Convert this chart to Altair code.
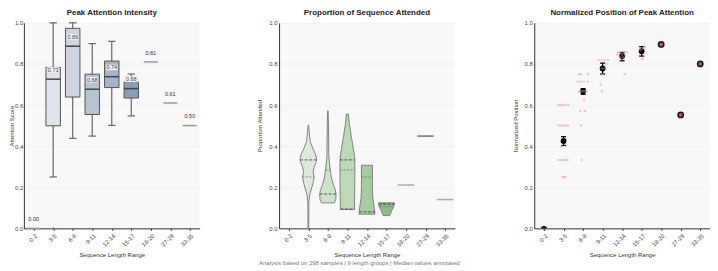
import json
import altair as alt
import pandas as pd

groups = ["0-2", "3-5", "6-8", "9-11", "12-14", "15-17", "18-20", "27-29", "33-35"]

# ---------- Panel 1: Peak attention intensity (box plots) ----------
box_idx = [1, 2, 3, 4, 5]
box_wlo = [0.25, 0.438, 0.449, 0.501, 0.547]
box_q1 = [0.499, 0.639, 0.554, 0.685, 0.634]
box_med = [0.726, 0.886, 0.677, 0.738, 0.680]
box_q3 = [0.783, 0.973, 0.750, 0.814, 0.711]
box_whi = [1.0, 1.0, 0.899, 0.910, 0.751]
box_fill = ["#dfe4e9", "#cdd5df", "#b7c4d3", "#a4b5c9", "#8b9db7"]
single_idx = [0, 6, 7, 8]
single_val = [0.0, 0.81, 0.61, 0.50]
outlier_idx = [1]
outlier_val = [0.0]

# ---------- Panel 2: Proportion attended (violins) ----------
violin_profiles = {
    1: [(0.502, 0.01), (0.462, 0.05), (0.422, 0.10), (0.390, 0.22), (0.366, 0.34),
        (0.341, 0.42), (0.325, 0.41), (0.297, 0.29), (0.277, 0.24), (0.249, 0.30),
        (0.224, 0.25), (0.196, 0.17), (0.164, 0.07), (0.124, 0.025), (0.0, 0.02)],
    2: [(0.572, 0.01), (0.511, 0.03), (0.430, 0.04), (0.349, 0.05), (0.285, 0.12),
        (0.245, 0.18), (0.212, 0.28), (0.188, 0.38), (0.164, 0.42), (0.140, 0.40),
        (0.124, 0.33)],
    3: [(0.556, 0.05), (0.510, 0.10), (0.446, 0.20), (0.390, 0.30), (0.341, 0.38),
        (0.253, 0.38), (0.156, 0.37), (0.092, 0.36)],
    4: [(0.307, 0.28), (0.204, 0.28), (0.150, 0.30), (0.110, 0.36), (0.080, 0.40),
        (0.069, 0.40)],
    5: [(0.124, 0.41), (0.108, 0.38), (0.092, 0.30), (0.075, 0.22), (0.062, 0.17)],
}
violin_fill = ["#dde9db", "#cfe2cb", "#bcd8b6", "#a6cba0", "#8cbd86"]
inner_idx = [1, 1, 2, 2, 3, 3, 3, 4, 4, 5, 5]
inner_val = [0.333, 0.25, 0.284, 0.167, 0.333, 0.284, 0.094, 0.25, 0.08, 0.118, 0.106]
inner_hw = [0.42, 0.30, 0.13, 0.42, 0.38, 0.38, 0.36, 0.28, 0.40, 0.40, 0.34]
inner_kind = ["dark", "gray", "gray", "dark", "dark", "gray", "dark", "gray", "dark", "dark", "gray"]
prop_single_idx = [6, 7, 8]
prop_single_val = [0.211, 0.449, 0.140]
prop_single_kind = ["gray", "dark", "gray"]

# ---------- Panel 3: Normalized position ----------
mean_idx = [0, 1, 2, 3, 4, 5]
mean_val = [0.004, 0.425, 0.667, 0.778, 0.839, 0.862]
err_lo = [0.004, 0.403, 0.652, 0.751, 0.815, 0.838]
err_hi = [0.004, 0.446, 0.680, 0.804, 0.856, 0.884]
mean_size = [14, 34, 34, 34, 34, 34]
pos_single_idx = [6, 7, 8]
pos_single_val = [0.895, 0.552, 0.800]
pts_idx = ([1] * 19 + [2] * 17 + [3] * 10 + [4] * 10 + [5] * 6 + [0] * 3)
pts_val = ([0.6] * 5 + [0.5] * 5 + [0.4] + [0.333] * 5 + [0.25] * 3 +
           [0.75] * 3 + [0.714] * 4 + [0.667] * 5 + [0.625] + [0.571] * 2 + [0.5] + [0.333] +
           [0.818] * 4 + [0.8] + [0.778] * 2 + [0.75] + [0.7] + [0.667] +
           [0.857] * 4 + [0.846] * 3 + [0.833] * 2 + [0.75] +
           [0.882] + [0.875] * 3 + [0.867] + [0.824] +
           [0.0] * 3)
pts_jit = ([-0.26, -0.15, -0.05, 0.08, 0.24] + [-0.25, -0.12, 0.0, 0.1, 0.22] + [-0.1] +
           [-0.25, -0.12, 0.0, 0.1, 0.2] + [-0.05, 0.03, 0.1] +
           [-0.2, -0.1, 0.25] + [-0.25, -0.1, 0.05, 0.25] + [-0.2, -0.1, 0.0, 0.1, 0.2] + [0.06] +
           [-0.15, 0.1] + [-0.1] + [-0.08] +
           [-0.2, -0.05, 0.1, 0.28] + [0.2] + [-0.05, 0.05] + [0.0] + [-0.1] + [-0.03] +
           [-0.2, -0.05, 0.1, 0.25] + [-0.25, 0.0, 0.15] + [-0.1, 0.05] + [0.13] +
           [0.18] + [-0.1, 0.05, 0.12] + [-0.05] + [0.06] +
           [-0.2, 0.0, 0.2])

# ---------- shared styling ----------
FONT = "Liberation Sans"
W, H = 177, 207
label_expr = json.dumps(groups) + "[datum.value]"
xscale = alt.Scale(domain=[-0.5, 8.5], nice=False, zero=False)
yscale = alt.Scale(domain=[0, 1], nice=False)


def xaxis():
    return alt.Axis(values=list(range(9)), tickCount=9, labelExpr=label_expr, labelAngle=-45,
                    labelOverlap=False, labelBound=False, labelFlush=False,
                    title="Sequence Length Range", grid=False,
                    tickSize=2, labelFontSize=6, titleFontSize=6, titlePadding=4)


def yaxis(title, pad, lpad=2):
    return alt.Axis(values=[0, 0.2, 0.4, 0.6, 0.8, 1.0], tickCount=6, format=".1f", title=title,
                    ticks=False, labelPadding=lpad, titlePadding=pad, grid=True,
                    labelFontSize=6, titleFontSize=6)


def ttl(text):
    return alt.TitleParams(text, fontSize=8, fontWeight="bold", font=FONT,
                           color="#222", anchor="middle", offset=3)


# Panel 1
box_df = pd.DataFrame({"i": box_idx, "wlo": box_wlo, "q1": box_q1, "med": box_med,
                       "q3": box_q3, "whi": box_whi, "fill": box_fill})
box_df["lab"] = [f"{v:.2f}" for v in box_med]
sing_df = pd.DataFrame({"i": single_idx, "med": single_val})
sing_df["lab"] = [f"{v:.2f}" for v in single_val]
out_df = pd.DataFrame({"i": outlier_idx, "v": outlier_val})

bx = alt.Chart(box_df).transform_calculate(
    xl="datum.i - 0.37", xr="datum.i + 0.37", cl="datum.i - 0.19", cr="datum.i + 0.19",
    bl="datum.i - 0.30", br="datum.i + 0.30",
    ly="datum.med + 0.045", ly1="datum.med + 0.031", ly2="datum.med + 0.059")

whisk = bx.mark_rule(color="#666", strokeWidth=1.2).encode(
    x=alt.X("i:Q", scale=xscale, axis=xaxis()),
    y=alt.Y("wlo:Q", scale=yscale, axis=yaxis("Attention Score", 0, 1)), y2="whi:Q")
cap_lo = bx.mark_rule(color="#666", strokeWidth=1.2).encode(x="cl:Q", x2="cr:Q", y="wlo:Q")
cap_hi = bx.mark_rule(color="#666", strokeWidth=1.2).encode(x="cl:Q", x2="cr:Q", y="whi:Q")
boxes = bx.mark_rect(stroke="#555", strokeWidth=1).encode(
    x="xl:Q", x2="xr:Q", y="q1:Q", y2="q3:Q",
    fill=alt.Fill("fill:N", scale=None))
meds = bx.mark_rule(color="#444", strokeWidth=1.5).encode(x="xl:Q", x2="xr:Q", y="med:Q")
lab_bg = bx.mark_rect(fill="white", opacity=0.85, stroke="#ccc", strokeWidth=0.4).encode(
    x="bl:Q", x2="br:Q", y="ly1:Q", y2="ly2:Q")
labs = bx.mark_text(fontSize=5.5, font=FONT, color="#333", baseline="middle").encode(
    x="i:Q", y="ly:Q", text="lab:N")

sg = alt.Chart(sing_df).transform_calculate(
    xl="datum.i - 0.36", xr="datum.i + 0.36", ly="datum.med + 0.045")
sing_lines = sg.mark_rule(color="#999", strokeWidth=1.5).encode(x="xl:Q", x2="xr:Q", y="med:Q")
sing_labs = sg.mark_text(fontSize=5.5, font=FONT, color="#333", baseline="middle").encode(
    x="i:Q", y="ly:Q", text="lab:N")
outl = alt.Chart(out_df).mark_circle(size=4, color="#666", opacity=0.8).encode(x="i:Q", y="v:Q")

p1 = alt.layer(whisk, cap_lo, cap_hi, boxes, meds, sing_lines, sing_labs, outl, lab_bg, labs).properties(
    width=W, height=H, title=ttl("Peak Attention Intensity"))

# Panel 2
vrows = []
for k, prof in violin_profiles.items():
    for v, hw in prof:
        vrows.append({"i": k, "v": v, "hw": hw})
vdf = pd.DataFrame(vrows)
violins = alt.Chart(vdf).transform_calculate(
    xl="datum.i - datum.hw", xr="datum.i + datum.hw").mark_area(
    orient="horizontal", stroke="#777", strokeWidth=0.9, opacity=1).encode(
    x=alt.X("xl:Q", scale=xscale, axis=xaxis()), x2="xr:Q",
    y=alt.Y("v:Q", scale=yscale, axis=yaxis("Proportion Attended", 6)),
    color=alt.Color("i:N", scale=alt.Scale(domain=list(violin_profiles.keys()), range=violin_fill), legend=None),
    detail="i:N")

inner_df = pd.DataFrame({"i": inner_idx, "v": inner_val, "hw": inner_hw, "kind": inner_kind})
inner_base = alt.Chart(inner_df).transform_calculate(
    xl="datum.i - datum.hw", xr="datum.i + datum.hw")
inner_dark = inner_base.transform_filter("datum.kind == 'dark'").mark_rule(
    color="#444", strokeWidth=0.9, strokeDash=[3, 1.5]).encode(x="xl:Q", x2="xr:Q", y="v:Q")
inner_gray = inner_base.transform_filter("datum.kind == 'gray'").mark_rule(
    color="#777", strokeWidth=0.9, strokeDash=[2, 1.5]).encode(x="xl:Q", x2="xr:Q", y="v:Q")
ps_df = pd.DataFrame({"i": prop_single_idx, "v": prop_single_val, "kind": prop_single_kind})
ps_base = alt.Chart(ps_df).transform_calculate(xl="datum.i - 0.42", xr="datum.i + 0.42")
ps_dark = ps_base.transform_filter("datum.kind == 'dark'").mark_rule(
    color="#555", strokeWidth=1.2).encode(x="xl:Q", x2="xr:Q", y="v:Q")
ps_gray = ps_base.transform_filter("datum.kind == 'gray'").mark_rule(
    color="#aaa", strokeWidth=1.5).encode(x="xl:Q", x2="xr:Q", y="v:Q")

p2 = alt.layer(violins, inner_gray, inner_dark, ps_gray, ps_dark).properties(
    width=W, height=H, title=ttl("Proportion of Sequence Attended"))

# Panel 3
pts_df = pd.DataFrame({"i": pts_idx, "v": pts_val, "j": pts_jit})
m_df = pd.DataFrame({"i": mean_idx, "v": mean_val, "lo": err_lo, "hi": err_hi, "s": mean_size})
s_df = pd.DataFrame({"i": pos_single_idx, "v": pos_single_val})

mb = alt.Chart(m_df).transform_calculate(cl="datum.i - 0.13", cr="datum.i + 0.13")
err = mb.mark_rule(color="black", strokeWidth=1.2).encode(
    x=alt.X("i:Q", scale=xscale, axis=xaxis()),
    y=alt.Y("lo:Q", scale=yscale, axis=yaxis("Normalized Position", 6)), y2="hi:Q")
ecap_lo = mb.mark_rule(color="black", strokeWidth=1.2).encode(x="cl:Q", x2="cr:Q", y="lo:Q")
ecap_hi = mb.mark_rule(color="black", strokeWidth=1.2).encode(x="cl:Q", x2="cr:Q", y="hi:Q")
means = mb.mark_circle(color="black", opacity=1).encode(
    x="i:Q", y="v:Q", size=alt.Size("s:Q", scale=None, legend=None))
singles = alt.Chart(s_df).mark_point(filled=True, fill="#b75a57", stroke="#1a1a1a",
                                     strokeWidth=1.6, size=28, opacity=1).encode(x="i:Q", y="v:Q")
pts = alt.Chart(pts_df).transform_calculate(xx="datum.i + datum.j").mark_circle(
    size=6, color="#e58f8f", opacity=0.45).encode(x="xx:Q", y="v:Q")

p3 = alt.layer(err, ecap_lo, ecap_hi, means, singles, pts).properties(
    width=W, height=H, title=ttl("Normalized Position of Peak Attention"))

chart = alt.hconcat(p1, p2, p3, spacing=57).properties(
    padding={"left": 0, "top": 0, "right": 0, "bottom": 0},
    title=alt.TitleParams("Analysis based on 298 samples | 9 length groups | Median values annotated",
                          orient="bottom", anchor="middle", fontSize=6, fontWeight="normal",
                          font=FONT, color="#777", offset=3)
).configure_view(fill="#f8f8f8", stroke=None).configure_axis(
    labelFont=FONT, titleFont=FONT, labelColor="#444", titleColor="#333",
    titleFontWeight="normal", domainColor="#333", domainWidth=1, tickColor="#333",
    gridColor="#ececec", gridWidth=0.6, labelOverlap=False
)

chart.save("out.html", embed_options={"renderer": "svg", "actions": False})
